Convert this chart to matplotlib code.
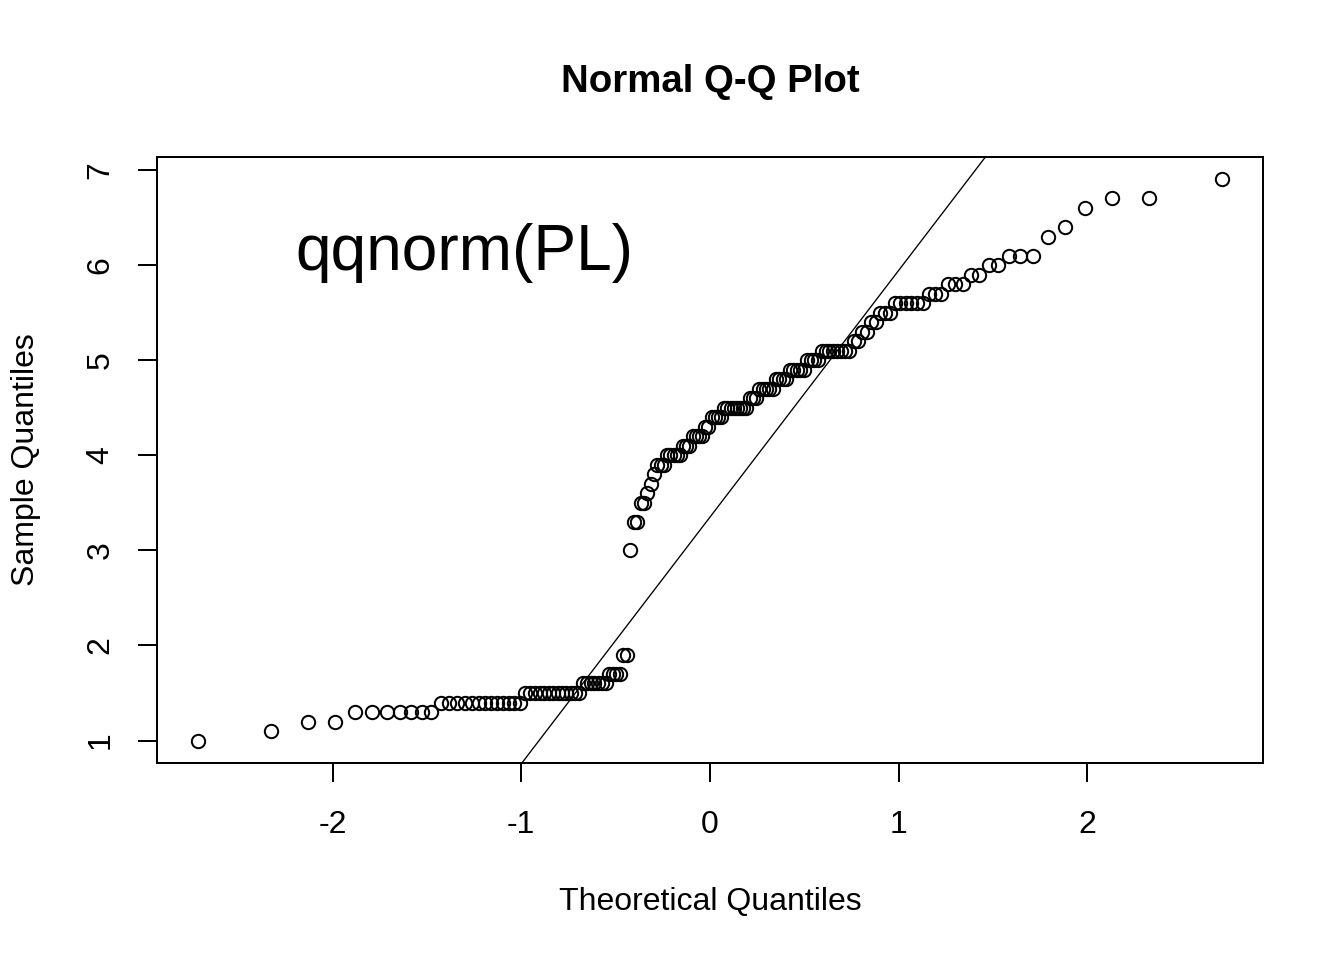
import numpy as np
import matplotlib
matplotlib.use("Agg")
import matplotlib.pyplot as plt
from statistics import NormalDist

values = [1.0, 1.1, 1.2, 1.3, 1.4, 1.5, 1.6, 1.7, 1.9,
          3.0, 3.3, 3.5, 3.6, 3.7, 3.8, 3.9, 4.0, 4.1, 4.2, 4.3, 4.4, 4.5,
          4.6, 4.7, 4.8, 4.9, 5.0, 5.1, 5.2, 5.3, 5.4, 5.5, 5.6, 5.7, 5.8,
          5.9, 6.0, 6.1, 6.3, 6.4, 6.6, 6.7, 6.9]
counts = [1, 1, 2, 7, 13, 13, 7, 4, 2,
          1, 2, 2, 1, 1, 1, 3, 5, 3, 4, 2, 4, 8,
          3, 5, 4, 5, 4, 8, 2, 2, 2, 3, 6, 3, 3,
          2, 2, 3, 1, 1, 1, 2, 1]
x_ticks = [-2, -1, 0, 1, 2]
y_ticks = [1, 2, 3, 4, 5, 6, 7]

plt.rcParams['font.family'] = ['Liberation Sans', 'DejaVu Sans']

sample = np.repeat(values, counts)
n = len(sample)
nd = NormalDist()
# R ppoints for n > 10
theo = np.array([nd.inv_cdf((i - 0.5) / n) for i in range(1, n + 1)])

# qqline through the quartiles
q1, q3 = np.percentile(sample, [25, 75])
z1, z3 = nd.inv_cdf(0.25), nd.inv_cdf(0.75)
slope = (q3 - q1) / (z3 - z1)
inter = q1 - slope * z1

fig = plt.figure(figsize=(7, 5), dpi=192)
ax = fig.add_axes([157 / 1344, 1 - 763 / 960, (1263 - 157) / 1344, (763 - 157) / 960])

ax.plot(theo, sample, 'o', mfc='none', mec='black', ms=5.0, mew=0.75)

xr = theo.max() - theo.min()
yr = sample.max() - sample.min()
xlim = (theo.min() - 0.04 * xr, theo.max() + 0.04 * xr)
ylim = (sample.min() - 0.04 * yr, sample.max() + 0.04 * yr)
xs = np.array(xlim)
ax.plot(xs, inter + slope * xs, color='black', lw=0.5)
ax.set_xlim(xlim)
ax.set_ylim(ylim)

ax.set_xticks(x_ticks)
ax.set_yticks(y_ticks)
ax.set_xticklabels([str(v) for v in x_ticks])
ax.set_yticklabels([str(v) for v in y_ticks], rotation=90, va='center')
ax.tick_params(axis='x', length=7.1, width=0.75, pad=10.5, labelsize=12)
ax.tick_params(axis='y', length=7.1, width=0.75, pad=8.5, labelsize=12)
for sp in ax.spines.values():
    sp.set_linewidth(0.75)

ax.text(-1.3, 6.13, "qqnorm(PL)", fontsize=24, ha='center', va='center')

fig.text(710 / 1344, 1 - 82 / 960, "Normal Q-Q Plot", fontsize=14.4,
         fontweight='bold', ha='center', va='center')
fig.text(710 / 1344, 1 - 902 / 960, "Theoretical Quantiles", fontsize=12,
         ha='center', va='center')
fig.text(26 / 1344, 1 - 460 / 960, "Sample Quantiles", fontsize=12,
         ha='center', va='center', rotation=90)

fig.savefig("out.png", dpi=192)
